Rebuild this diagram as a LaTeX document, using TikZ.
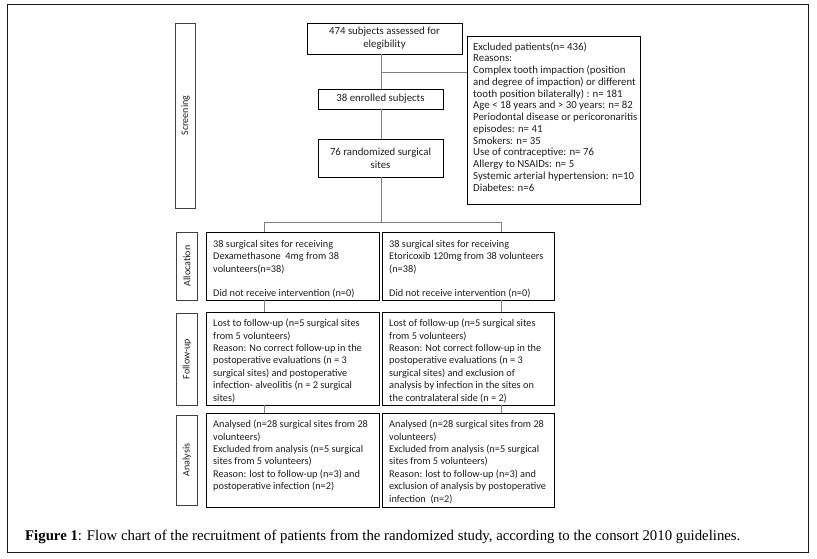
\documentclass[tikz,border=0pt]{standalone}
\usepackage{fontspec}
\setmainfont{Carlito}
\newfontfamily\capfont{Liberation Serif}
\definecolor{txtc}{HTML}{1E1E1E}
\definecolor{linec}{HTML}{7F7F7F}
\begin{document}
\begin{tikzpicture}[x=1pt,y=-1pt,
  box/.style={draw=black,line width=0.8pt,inner sep=0pt,outer sep=0pt},
  side/.style={draw=black!75,line width=0.9pt,inner sep=0pt,outer sep=0pt,minimum width=20.5pt},
  sidelbl/.style={rotate=90,text=txtc,font=\fontsize{10}{12}\selectfont,inner sep=0pt},
  txt/.style={anchor=north west,inner sep=0pt,align=left,text=txtc,font=\fontsize{10.3}{12.4}\selectfont},
  ctxt/.style={inner sep=0pt,align=center,text=txtc,font=\fontsize{10.8}{12.8}\selectfont},
  conn/.style={draw=linec,line width=0.7pt}]
\useasboundingbox (0,0) rectangle (817,558);
\draw[black!90,line width=0.9pt] (7,4) rectangle (808,552);

% side boxes
\node[side,minimum height=185pt] (sscr) at (185.5,115.5) {};
\node[sidelbl] (sscrl) at (sscr.center) {Screening};
\node[side,minimum height=68pt] (salloc) at (187,266) {};
\node[sidelbl] (sallocl) at (salloc.center) {Allocation};
\node[side,minimum height=92pt] (sfol) at (187,359) {};
\node[sidelbl] (sfoll) at (sfol.center) {Follow-up};
\node[side,minimum height=90pt] (sana) at (187,460) {};
\node[sidelbl] (sanal) at (sana.center) {Analysis};

% screening boxes
\node[box,minimum width=155pt,minimum height=31pt] (assess) at (384.5,38.5) {};
\node[ctxt] (assesst) at (assess.center) {474 subjects assessed for\\elegibility};
\node[box,minimum width=125pt,minimum height=20pt] (enrol) at (380.5,99) {};
\node[ctxt] (enrolt) at (enrol.center) {38 enrolled subjects};
\node[box,minimum width=125pt,minimum height=38pt] (rand) at (380.5,158) {};
\node[ctxt] (randt) at (rand.center) {76 randomized surgical\\sites};
\node[box,minimum width=173pt,minimum height=168pt] (excl) at (553.5,120) {};
\node[txt,font=\fontsize{10.8}{11.75}\selectfont] (exclt) at ([xshift=6pt,yshift=-6pt]excl.north west) {Excluded patients(n= 436)\\Reasons:\\Complex tooth impaction (position\\and degree of impaction) or different\\tooth position bilaterally) : n= 181\\Age < 18 years and > 30 years: n= 82\\Periodontal disease or pericoronaritis\\episodes: n= 41\\Smokers: n= 35\\Use of contraceptive: n= 76\\Allergy to NSAIDs: n= 5\\Systemic arterial hypertension: n=10\\Diabetes: n=6};

% allocation
\node[box,minimum width=173pt,minimum height=68pt] (al) at (292.5,266) {};
\node[txt] (alt) at ([xshift=7pt,yshift=-8pt]al.north west) {38 surgical sites for receiving\\Dexamethasone\ \ 4mg from 38\\volunteers(n=38)\\\strut\\Did not receive intervention (n=0)};
\node[box,minimum width=172pt,minimum height=68pt] (ar) at (468,266) {};
\node[txt] (art) at ([xshift=7pt,yshift=-8pt]ar.north west) {38 surgical sites for receiving\\Etoricoxib 120mg from 38 volunteers\\(n=38)\\\strut\\Did not receive intervention (n=0)};

% follow-up
\node[box,minimum width=173pt,minimum height=93pt] (fl) at (292.5,358.5) {};
\node[txt] (flt) at ([xshift=7pt,yshift=-7pt]fl.north west) {Lost to follow-up (n=5 surgical sites\\from 5 volunteers)\\Reason: No correct follow-up in the\\postoperative evaluations (n = 3\\surgical sites) and postoperative\\infection- alveolitis (n = 2 surgical\\sites)};
\node[box,minimum width=172pt,minimum height=93pt] (fr) at (468,358.5) {};
\node[txt] (frt) at ([xshift=7pt,yshift=-7pt]fr.north west) {Lost of follow-up (n=5 surgical sites\\from 5 volunteers)\\Reason: Not correct follow-up in the\\postoperative evaluations (n = 3\\surgical sites) and exclusion of\\analysis by infection in the sites on\\the contralateral side (n = 2)};

% analysis
\node[box,minimum width=173pt,minimum height=94pt] (nl) at (292.5,460) {};
\node[txt] (nlt) at ([xshift=7pt,yshift=-7pt]nl.north west) {Analysed (n=28 surgical sites from 28\\volunteers)\\Excluded from analysis (n=5 surgical\\sites from 5 volunteers)\\Reason: lost to follow-up (n=3) and\\postoperative infection (n=2)};
\node[box,minimum width=172pt,minimum height=94pt] (nr) at (468,460) {};
\node[txt] (nrt) at ([xshift=7pt,yshift=-7pt]nr.north west) {Analysed (n=28 surgical sites from 28\\volunteers)\\Excluded from analysis (n=5 surgical\\sites from 5 volunteers)\\Reason: lost to follow-up (n=3) and\\exclusion of analysis by postoperative\\infection\ \ (n=2)};

% connectors
\coordinate (spine) at (381,0);
\coordinate (exj) at (381,72);
\coordinate (cL) at (264,222);
\coordinate (cR) at (501,222);
\coordinate (cM) at (381,222);
\draw[conn] (spine |- assess.south) -- (spine |- enrol.north);
\draw[conn] (exj) -- (exj -| excl.west);
\draw[conn] (spine |- enrol.south) -- (spine |- rand.north);
\draw[conn] (spine |- rand.south) -- (cM);
\draw[conn] (cL) -- (cR);
\draw[conn] (cL) -- (cL |- al.north);
\draw[conn] (cR) -- (cR |- ar.north);
\draw[conn] (cL |- al.south) -- (cL |- fl.north);
\draw[conn] (cR |- ar.south) -- (cR |- fr.north);
\draw[conn] (cL |- fl.south) -- (cL |- nl.north);
\draw[conn] (cR |- fr.south) -- (cR |- nr.north);

% caption
\node[anchor=base west,inner sep=0pt,text=black,font=\capfont\fontsize{14.8}{16}\selectfont] (cap) at (25,540) {\textbf{Figure 1}: Flow chart of the recruitment of patients from the randomized study, according to the consort 2010 guidelines.};
\end{tikzpicture}
\end{document}
